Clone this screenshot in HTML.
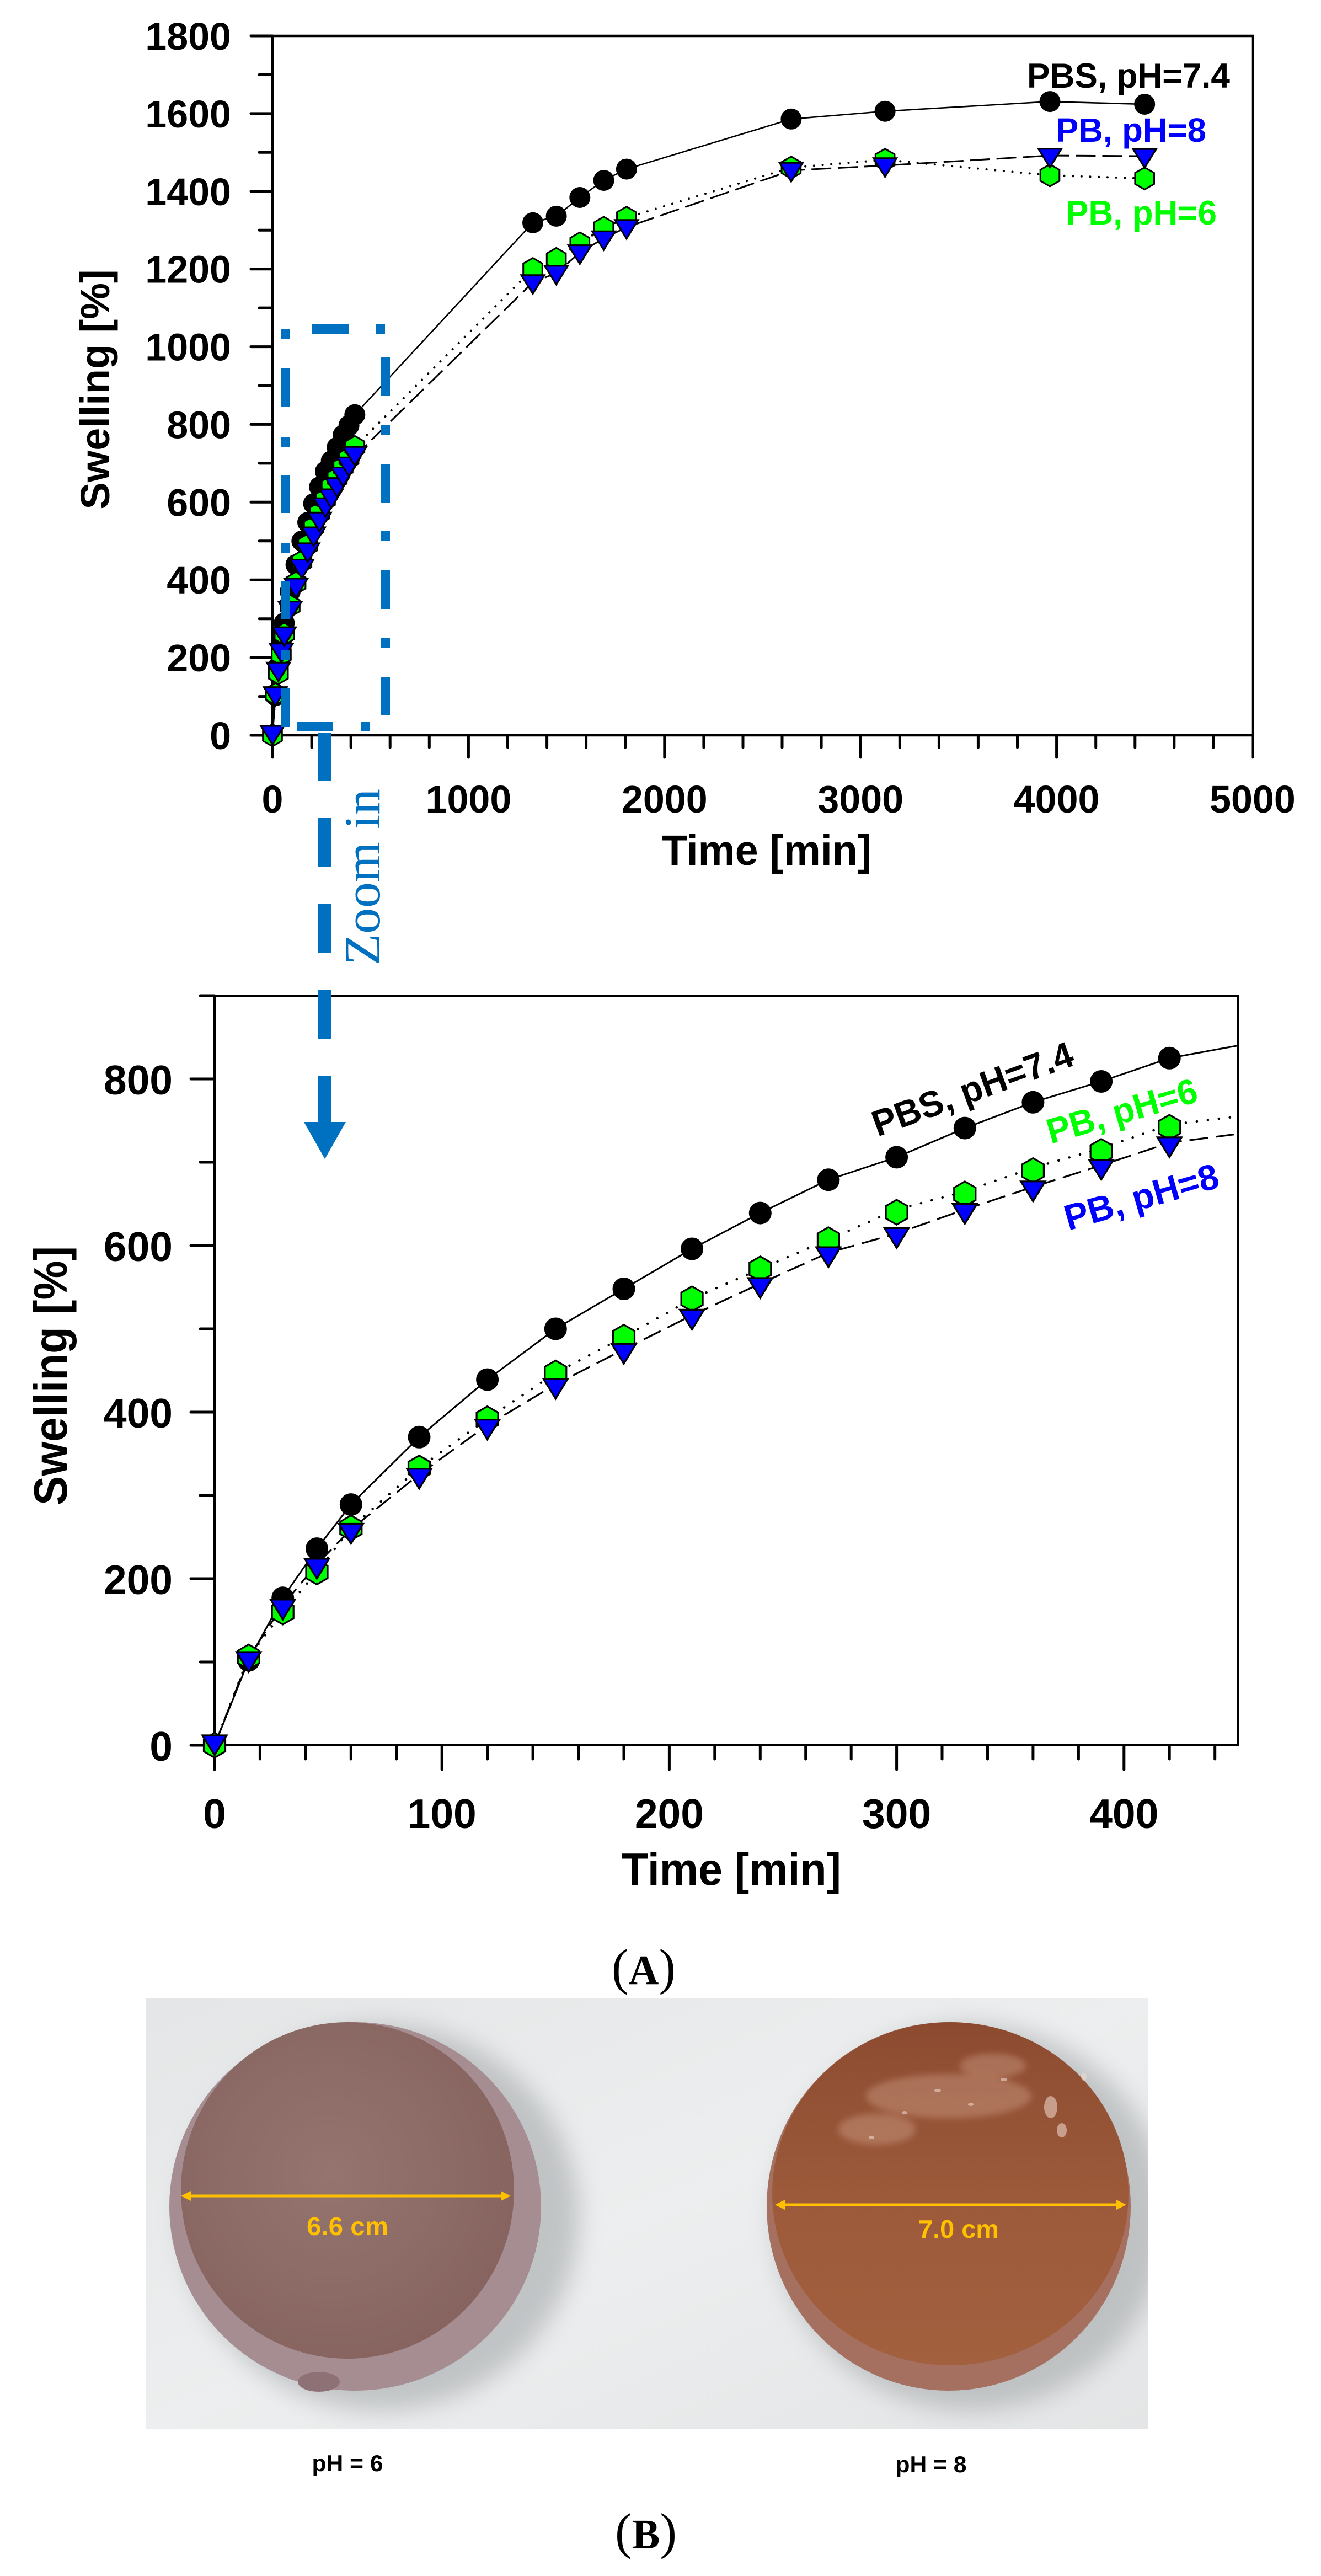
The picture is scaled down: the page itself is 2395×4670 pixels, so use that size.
<!DOCTYPE html>
<html><head><meta charset="utf-8"><style>
html,body{margin:0;padding:0;background:#fff;}
svg{display:block;}
.s{font-family:"Liberation Sans",Arial,sans-serif;font-weight:bold;}
.r{font-family:"Liberation Serif","Times New Roman",serif;}
</style></head><body>
<svg width="2395" height="4670" viewBox="0 0 2395 4670" xmlns="http://www.w3.org/2000/svg">
<defs>
<circle id="cT" r="19" fill="#000"/>
<polygon id="hT" points="0,-20 17.3,-10 17.3,10 0,20 -17.3,10 -17.3,-10" fill="#00ff00" stroke="#000" stroke-width="3"/>
<polygon id="tT" points="-21,-17 21,-17 0,17" fill="#0000ff" stroke="#000" stroke-width="3" stroke-linejoin="miter"/>
<circle id="cB" r="20.5" fill="#000"/>
<polygon id="hB" points="0,-22.5 19.5,-11.25 19.5,11.25 0,22.5 -19.5,11.25 -19.5,-11.25" fill="#00ff00" stroke="#000" stroke-width="3.2"/>
<polygon id="tB" points="-22,-18 22,-18 0,18" fill="#0000ff" stroke="#000" stroke-width="3.2" stroke-linejoin="miter"/>
<filter id="bl" x="-30%" y="-30%" width="160%" height="160%"><feGaussianBlur stdDeviation="22"/></filter>
<filter id="bl2"><feGaussianBlur stdDeviation="6"/></filter>
<linearGradient id="bg" x1="0" y1="0" x2="1" y2="1"><stop offset="0" stop-color="#e4e6e7"/><stop offset="0.5" stop-color="#eceeef"/><stop offset="1" stop-color="#e3e5e6"/></linearGradient>
<radialGradient id="lf" cx="0.45" cy="0.45" r="0.6"><stop offset="0" stop-color="#957470"/><stop offset="1" stop-color="#86635e"/></radialGradient>
<linearGradient id="rf" x1="0" y1="0" x2="0" y2="1"><stop offset="0" stop-color="#8c4a30"/><stop offset="0.5" stop-color="#9c5a3b"/><stop offset="1" stop-color="#a2603f"/></linearGradient>
<clipPath id="pc"><rect x="265" y="3622" width="1816" height="781"/></clipPath>
</defs>

<!-- ================= TOP CHART ================= -->
<g stroke="#000" fill="none">
<path d="M494 65V1333H2271V65H494" stroke-width="4.5"/>
<path stroke-width="5" stroke-linecap="round" d="M455 65H494M455 205.9H494M455 346.8H494M455 487.7H494M455 628.6H494M455 769.4H494M455 910.3H494M455 1051.2H494M455 1192.1H494M455 1333H494
M470 135.4H494M470 276.3H494M470 417.2H494M470 558.1H494M470 699H494M470 839.9H494M470 980.8H494M470 1121.7H494M470 1262.6H494
M494 1333V1373M849.4 1333V1373M1204.8 1333V1373M1560.2 1333V1373M1915.6 1333V1373M2271 1333V1373
M565.1 1333V1355M636.2 1333V1355M707.2 1333V1355M778.3 1333V1355M920.5 1333V1355M991.6 1333V1355M1062.6 1333V1355M1133.7 1333V1355M1275.9 1333V1355M1347 1333V1355M1418 1333V1355M1489.1 1333V1355M1631.3 1333V1355M1702.4 1333V1355M1773.4 1333V1355M1844.5 1333V1355M1986.7 1333V1355M2057.8 1333V1355M2128.8 1333V1355M2199.9 1333V1355"/>
</g>
<g class="s" font-size="70" text-anchor="end" fill="#000">
<text x="419" y="90">1800</text><text x="419" y="230.9">1600</text><text x="419" y="371.8">1400</text><text x="419" y="512.7">1200</text><text x="419" y="653.6">1000</text><text x="419" y="794.4">800</text><text x="419" y="935.3">600</text><text x="419" y="1076.2">400</text><text x="419" y="1217.1">200</text><text x="419" y="1358">0</text>
</g>
<g class="s" font-size="70" text-anchor="middle" fill="#000">
<text x="494" y="1473">0</text><text x="849.4" y="1473">1000</text><text x="1204.8" y="1473">2000</text><text x="1560.2" y="1473">3000</text><text x="1915.6" y="1473">4000</text><text x="2271" y="1473">5000</text>
</g>
<text class="s" x="1390" y="1568" font-size="77" text-anchor="middle" textLength="380" lengthAdjust="spacingAndGlyphs">Time [min]</text>
<text class="s" transform="translate(198,706) rotate(-90)" font-size="74" text-anchor="middle" textLength="435" lengthAdjust="spacingAndGlyphs">Swelling [%]</text>

<!-- top lines -->
<polyline fill="none" stroke="#000" stroke-width="2.6" points="494,1333 499.3,1261.1 504.7,1208.3 510,1166.8 515.3,1129.4 526,1072.4 536.6,1023.7 547.3,980.8 558,947 568.6,913.2 579.3,882.9 590,854.7 600.6,835.7 611.3,811 622,789.2 632.6,771.6 643.3,751.8 966,403.8 1008.6,391.9 1051.3,358 1094.6,327 1135.9,306.6 1434.4,215.8 1604.6,201.7 1903.5,184.1 2075.2,189"/>
<polyline fill="none" stroke="#000" stroke-width="4" stroke-linecap="round" stroke-dasharray="0.1 15.6" points="494,1333 499.3,1258.3 504.7,1220.3 510,1186.5 515.3,1149.1 526,1098.4 536.6,1056.9 547.3,1018.1 558,987.8 568.6,955.4 579.3,930.1 590,905.4 600.6,882.2 611.3,866.7 622,846.9 632.6,830.7 643.3,810.3 966,487.7 1008.6,469.4 1051.3,441.2 1094.6,413 1135.9,394.7 1434.4,303.8 1604.6,289.7 1903.5,317.9 2075.2,323.5"/>
<polyline fill="none" stroke="#000" stroke-width="3" stroke-dasharray="36 12" points="494,1333 499.3,1262.6 504.7,1218.2 510,1183.7 515.3,1154.1 526,1107.6 536.6,1066 547.3,1031.5 558,1001.9 568.6,973 579.3,946.3 590,920.2 600.6,904 611.3,883.6 622,864.5 632.6,846.2 643.3,827.2 966,512 1008.6,495 1051.3,458 1094.6,432 1135.9,412 1434.4,309 1604.6,300 1903.5,282 2075.2,283"/>

<!-- top markers -->
<g>
<use href="#cT" x="494" y="1333"/><use href="#cT" x="499.3" y="1261.1"/><use href="#cT" x="504.7" y="1208.3"/><use href="#cT" x="510" y="1166.8"/><use href="#cT" x="515.3" y="1129.4"/><use href="#cT" x="526" y="1072.4"/><use href="#cT" x="536.6" y="1023.7"/><use href="#cT" x="547.3" y="980.8"/><use href="#cT" x="558" y="947"/><use href="#cT" x="568.6" y="913.2"/><use href="#cT" x="579.3" y="882.9"/><use href="#cT" x="590" y="854.7"/><use href="#cT" x="600.6" y="835.7"/><use href="#cT" x="611.3" y="811"/><use href="#cT" x="622" y="789.2"/><use href="#cT" x="632.6" y="771.6"/><use href="#cT" x="643.3" y="751.8"/>
<use href="#cT" x="966" y="403.8"/><use href="#cT" x="1008.6" y="391.9"/><use href="#cT" x="1051.3" y="358"/><use href="#cT" x="1094.6" y="327"/><use href="#cT" x="1135.9" y="306.6"/><use href="#cT" x="1434.4" y="215.8"/><use href="#cT" x="1604.6" y="201.7"/><use href="#cT" x="1903.5" y="184.1"/><use href="#cT" x="2075.2" y="189"/>
</g>
<g>
<use href="#hT" x="494" y="1333"/><use href="#hT" x="499.3" y="1258.3"/><use href="#hT" x="504.7" y="1220.3"/><use href="#hT" x="510" y="1186.5"/><use href="#hT" x="515.3" y="1149.1"/><use href="#hT" x="526" y="1098.4"/><use href="#hT" x="536.6" y="1056.9"/><use href="#hT" x="547.3" y="1018.1"/><use href="#hT" x="558" y="987.8"/><use href="#hT" x="568.6" y="955.4"/><use href="#hT" x="579.3" y="930.1"/><use href="#hT" x="590" y="905.4"/><use href="#hT" x="600.6" y="882.2"/><use href="#hT" x="611.3" y="866.7"/><use href="#hT" x="622" y="846.9"/><use href="#hT" x="632.6" y="830.7"/><use href="#hT" x="643.3" y="810.3"/>
<use href="#hT" x="966" y="487.7"/><use href="#hT" x="1008.6" y="469.4"/><use href="#hT" x="1051.3" y="441.2"/><use href="#hT" x="1094.6" y="413"/><use href="#hT" x="1135.9" y="394.7"/><use href="#hT" x="1434.4" y="303.8"/><use href="#hT" x="1604.6" y="289.7"/><use href="#hT" x="1903.5" y="317.9"/><use href="#hT" x="2075.2" y="323.5"/>
</g>
<g>
<use href="#tT" x="494" y="1333"/><use href="#tT" x="499.3" y="1262.6"/><use href="#tT" x="504.7" y="1218.2"/><use href="#tT" x="510" y="1183.7"/><use href="#tT" x="515.3" y="1154.1"/><use href="#tT" x="526" y="1107.6"/><use href="#tT" x="536.6" y="1066"/><use href="#tT" x="547.3" y="1031.5"/><use href="#tT" x="558" y="1001.9"/><use href="#tT" x="568.6" y="973"/><use href="#tT" x="579.3" y="946.3"/><use href="#tT" x="590" y="920.2"/><use href="#tT" x="600.6" y="904"/><use href="#tT" x="611.3" y="883.6"/><use href="#tT" x="622" y="864.5"/><use href="#tT" x="632.6" y="846.2"/><use href="#tT" x="643.3" y="827.2"/>
<use href="#tT" x="966" y="515.8"/><use href="#tT" x="1008.6" y="498.9"/><use href="#tT" x="1051.3" y="461.6"/><use href="#tT" x="1094.6" y="436.2"/><use href="#tT" x="1135.9" y="415.8"/><use href="#tT" x="1434.4" y="312.3"/><use href="#tT" x="1604.6" y="303.8"/><use href="#tT" x="1903.5" y="286.8"/><use href="#tT" x="2075.2" y="287.2"/>
</g>
<text class="s" x="1862" y="159" font-size="63" fill="#000" textLength="368" lengthAdjust="spacingAndGlyphs">PBS, pH=7.4</text>
<text class="s" x="1914" y="257" font-size="61" fill="#0000ff" textLength="273" lengthAdjust="spacingAndGlyphs">PB, pH=8</text>
<text class="s" x="1932" y="407" font-size="62" fill="#00ff00" textLength="274" lengthAdjust="spacingAndGlyphs">PB, pH=6</text>

<!-- ================= BOTTOM CHART ================= -->
<g stroke="#000" fill="none">
<path d="M389 1805V3164H2244V1805H389" stroke-width="4"/>
<path stroke-width="5" stroke-linecap="round" d="M346 1956H389M346 2258H389M346 2560H389M346 2862H389M346 3164H389
M363 1805H389M363 2107H389M363 2409H389M363 2711H389M363 3013H389
M389 3164V3208M801.2 3164V3208M1213.4 3164V3208M1625.6 3164V3208M2037.8 3164V3208
M471.4 3164V3189M553.9 3164V3189M636.3 3164V3189M718.8 3164V3189M883.6 3164V3189M966.1 3164V3189M1048.5 3164V3189M1131 3164V3189M1295.8 3164V3189M1378.3 3164V3189M1460.7 3164V3189M1543.2 3164V3189M1708 3164V3189M1790.5 3164V3189M1872.9 3164V3189M1955.4 3164V3189M2120.2 3164V3189M2202.7 3164V3189"/>
</g>
<g class="s" font-size="75" text-anchor="end" fill="#000">
<text x="313" y="1984">800</text><text x="313" y="2286">600</text><text x="313" y="2588">400</text><text x="313" y="2890">200</text><text x="313" y="3192">0</text>
</g>
<g class="s" font-size="75" text-anchor="middle" fill="#000">
<text x="389" y="3314">0</text><text x="801.2" y="3314">100</text><text x="1213.4" y="3314">200</text><text x="1625.6" y="3314">300</text><text x="2037.8" y="3314">400</text>
</g>
<text class="s" x="1326" y="3417" font-size="83" text-anchor="middle" textLength="398" lengthAdjust="spacingAndGlyphs">Time [min]</text>
<text class="s" transform="translate(121,2494) rotate(-90)" font-size="85" text-anchor="middle" textLength="470" lengthAdjust="spacingAndGlyphs">Swelling [%]</text>

<polyline fill="none" stroke="#000" stroke-width="3" points="389,3164 450.8,3010 512.7,2896.7 574.5,2807.6 636.3,2727.6 760,2605.3 883.6,2501.1 1007.3,2409 1131,2336.5 1254.6,2264 1378.3,2199.1 1501.9,2138.7 1625.6,2097.9 1749.3,2045.1 1872.9,1998.3 1996.6,1960.5 2120.2,1918.3 2243.9,1895.6"/>
<polyline fill="none" stroke="#000" stroke-width="4.5" stroke-linecap="round" stroke-dasharray="0.1 20" points="389,3164 450.8,3003.9 512.7,2922.4 574.5,2849.9 636.3,2769.9 760,2661.2 883.6,2572.1 1007.3,2489 1131,2424.1 1254.6,2354.6 1378.3,2300.3 1501.9,2247.4 1625.6,2193 1749.3,2160 1872.9,2117 1996.6,2082 2120.2,2039 2243.9,2023.9"/>
<polyline fill="none" stroke="#000" stroke-width="3.2" stroke-dasharray="34 14" points="389,3164 450.8,3005 512.7,2910 574.5,2836 636.3,2772.5 760,2672.8 883.6,2583.7 1007.3,2509.7 1131,2446.3 1254.6,2384.4 1378.3,2327 1501.9,2271.1 1625.6,2236.4 1749.3,2192.6 1872.9,2151.8 1996.6,2112.6 2120.2,2071.8 2243.9,2055.7"/>

<g>
<use href="#cB" x="389" y="3164"/><use href="#cB" x="450.8" y="3010"/><use href="#cB" x="512.7" y="2896.7"/><use href="#cB" x="574.5" y="2807.6"/><use href="#cB" x="636.3" y="2727.6"/><use href="#cB" x="760" y="2605.3"/><use href="#cB" x="883.6" y="2501.1"/><use href="#cB" x="1007.3" y="2409"/><use href="#cB" x="1131" y="2336.5"/><use href="#cB" x="1254.6" y="2264"/><use href="#cB" x="1378.3" y="2199.1"/><use href="#cB" x="1501.9" y="2138.7"/><use href="#cB" x="1625.6" y="2097.9"/><use href="#cB" x="1749.3" y="2045.1"/><use href="#cB" x="1872.9" y="1998.3"/><use href="#cB" x="1996.6" y="1960.5"/><use href="#cB" x="2120.2" y="1918.3"/>
</g>
<g>
<use href="#hB" x="389" y="3164"/><use href="#hB" x="450.8" y="3003.9"/><use href="#hB" x="512.7" y="2922.4"/><use href="#hB" x="574.5" y="2849.9"/><use href="#hB" x="636.3" y="2769.9"/><use href="#hB" x="760" y="2661.2"/><use href="#hB" x="883.6" y="2572.1"/><use href="#hB" x="1007.3" y="2489"/><use href="#hB" x="1131" y="2424.1"/><use href="#hB" x="1254.6" y="2354.6"/><use href="#hB" x="1378.3" y="2300.3"/><use href="#hB" x="1501.9" y="2247.4"/><use href="#hB" x="1625.6" y="2197.6"/><use href="#hB" x="1749.3" y="2164.4"/><use href="#hB" x="1872.9" y="2122.1"/><use href="#hB" x="1996.6" y="2087.4"/><use href="#hB" x="2120.2" y="2043.6"/>
</g>
<g>
<use href="#tB" x="389" y="3164"/><use href="#tB" x="450.8" y="3013"/><use href="#tB" x="512.7" y="2917.9"/><use href="#tB" x="574.5" y="2843.9"/><use href="#tB" x="636.3" y="2780.5"/><use href="#tB" x="760" y="2680.8"/><use href="#tB" x="883.6" y="2591.7"/><use href="#tB" x="1007.3" y="2517.7"/><use href="#tB" x="1131" y="2454.3"/><use href="#tB" x="1254.6" y="2392.4"/><use href="#tB" x="1378.3" y="2335"/><use href="#tB" x="1501.9" y="2279.1"/><use href="#tB" x="1625.6" y="2244.4"/><use href="#tB" x="1749.3" y="2200.6"/><use href="#tB" x="1872.9" y="2159.8"/><use href="#tB" x="1996.6" y="2120.6"/><use href="#tB" x="2120.2" y="2079.8"/>
</g>
<text class="s" transform="translate(1591,2061) rotate(-20)" font-size="66" fill="#000" textLength="383" lengthAdjust="spacingAndGlyphs">PBS, pH=7.4</text>
<text class="s" transform="translate(1905,2074) rotate(-16)" font-size="64" fill="#00ff00" textLength="281" lengthAdjust="spacingAndGlyphs">PB, pH=6</text>
<text class="s" transform="translate(1937,2231) rotate(-16)" font-size="65" fill="#0000ff" textLength="288" lengthAdjust="spacingAndGlyphs">PB, pH=8</text>

<!-- ================= ZOOM ANNOTATION ================= -->
<g fill="#0070c0">
<rect x="566" y="588" width="66" height="17"/>
<rect x="681" y="588" width="17" height="17"/>
<rect x="509" y="597" width="17" height="18"/>
<rect x="509" y="668" width="17" height="70"/>
<rect x="509" y="792" width="17" height="18"/>
<rect x="509" y="861" width="17" height="69"/>
<rect x="509" y="985" width="17" height="17"/>
<rect x="509" y="1054" width="17" height="69"/>
<rect x="509" y="1178" width="17" height="18"/>
<rect x="509" y="1247" width="17" height="71"/>
<rect x="691" y="648" width="16" height="70"/>
<rect x="691" y="770" width="16" height="18"/>
<rect x="691" y="841" width="16" height="70"/>
<rect x="691" y="963" width="16" height="18"/>
<rect x="691" y="1033" width="16" height="71"/>
<rect x="691" y="1156" width="16" height="18"/>
<rect x="691" y="1227" width="16" height="70"/>
<rect x="539" y="1308" width="65" height="17"/>
<rect x="654" y="1308" width="16" height="17"/>
<rect x="577" y="1328" width="24" height="87"/>
<rect x="577" y="1483" width="24" height="88"/>
<rect x="577" y="1639" width="24" height="89"/>
<rect x="577" y="1794" width="24" height="90"/>
<rect x="577" y="1950" width="24" height="86"/>
<polygon points="551,2034 627,2034 589,2101"/>
</g>
<text class="r" transform="translate(688,1590) rotate(-90)" font-size="92" fill="#0070c0" text-anchor="middle" textLength="320" lengthAdjust="spacingAndGlyphs">Zoom in</text>

<!-- (A) -->
<text class="r" x="1167" y="3597" text-anchor="middle" fill="#000"><tspan font-size="92">(</tspan><tspan font-size="76" font-weight="bold">A</tspan><tspan font-size="92">)</tspan></text>

<!-- ================= PHOTO ================= -->
<g clip-path="url(#pc)">
<rect x="265" y="3622" width="1816" height="781" fill="url(#bg)"/>
<ellipse cx="690" cy="4020" rx="360" ry="350" fill="#9fa2a4" opacity="0.55" filter="url(#bl)"/>
<ellipse cx="1760" cy="4020" rx="355" ry="350" fill="#9fa2a4" opacity="0.55" filter="url(#bl)"/>
<ellipse cx="644" cy="4000" rx="337" ry="334" fill="#a68d91"/>
<ellipse cx="630" cy="3971" rx="302" ry="305" fill="url(#lf)"/>
<ellipse cx="578" cy="4318" rx="38" ry="18" fill="#8e7175"/>
<ellipse cx="1720" cy="4000" rx="330" ry="334" fill="#a5705f"/>
<ellipse cx="1723" cy="3977" rx="323" ry="311" fill="url(#rf)"/>
<g fill="#e9c2ae" opacity="0.3" filter="url(#bl2)">
<ellipse cx="1720" cy="3800" rx="150" ry="40"/>
<ellipse cx="1590" cy="3860" rx="70" ry="28"/>
<ellipse cx="1800" cy="3745" rx="60" ry="22"/>
</g>
<g fill="#f2ddd2" opacity="0.55">
<ellipse cx="1905" cy="3820" rx="12" ry="20"/>
<ellipse cx="1925" cy="3862" rx="9" ry="13"/>
<ellipse cx="1965" cy="3765" rx="5" ry="7"/>
<ellipse cx="1640" cy="3830" rx="5" ry="3"/>
<ellipse cx="1700" cy="3790" rx="6" ry="3"/>
<ellipse cx="1760" cy="3815" rx="5" ry="3"/>
<ellipse cx="1580" cy="3875" rx="5" ry="3"/>
<ellipse cx="1820" cy="3770" rx="6" ry="3"/>
</g>
<g stroke="#ffc000" stroke-width="5" fill="#ffc000">
<line x1="336" y1="3981" x2="918" y2="3981"/>
<line x1="1413" y1="3997" x2="2034" y2="3997"/>
</g>
<g fill="#ffc000">
<polygon points="328,3981 346,3972 346,3990"/>
<polygon points="926,3981 908,3972 908,3990"/>
<polygon points="1405,3997 1423,3988 1423,4006"/>
<polygon points="2042,3997 2024,3988 2024,4006"/>
</g>
<text class="s" x="630" y="4052" font-size="46" fill="#ffc000" text-anchor="middle" textLength="148" lengthAdjust="spacingAndGlyphs">6.6 cm</text>
<text class="s" x="1738" y="4057" font-size="46" fill="#ffc000" text-anchor="middle" textLength="146" lengthAdjust="spacingAndGlyphs">7.0 cm</text>
</g>
<text class="s" x="630" y="4480" font-size="42" fill="#000" text-anchor="middle" textLength="129" lengthAdjust="spacingAndGlyphs">pH = 6</text>
<text class="s" x="1688" y="4482" font-size="42" fill="#000" text-anchor="middle" textLength="129" lengthAdjust="spacingAndGlyphs">pH = 8</text>

<!-- (B) -->
<text class="r" x="1171" y="4620" text-anchor="middle" fill="#000"><tspan font-size="92">(</tspan><tspan font-size="76" font-weight="bold">B</tspan><tspan font-size="92">)</tspan></text>
</svg>
</body></html>
